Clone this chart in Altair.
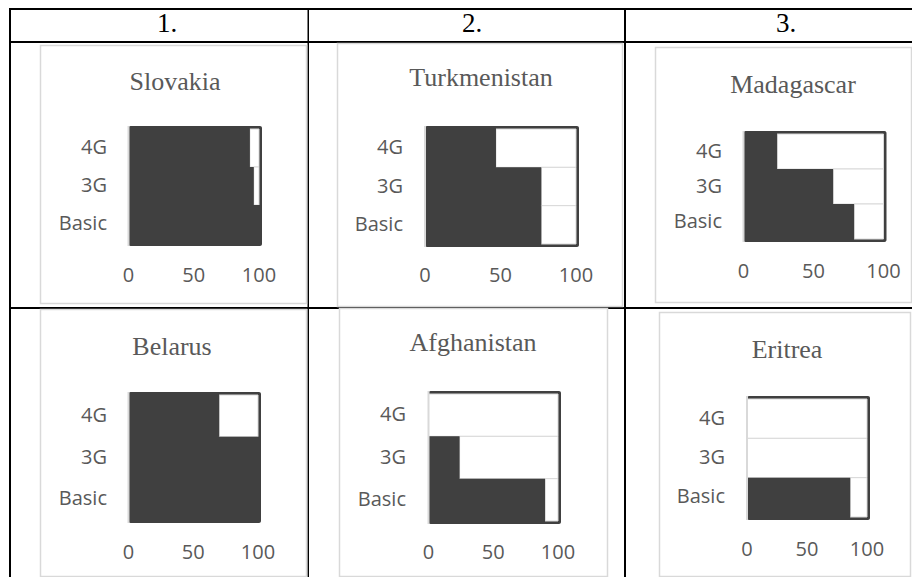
import altair as alt
import pandas as pd

# ---------------- data ----------------
techs = ["4G", "3G", "Basic"]
countries = ["Slovakia", "Turkmenistan", "Madagascar", "Belarus", "Afghanistan", "Eritrea"]
slovakia = [93, 96, 100]
turkmenistan = [47, 77, 77]
madagascar = [24, 64, 79]
belarus = [70, 100, 100]
afghanistan = [0, 24, 90]
eritrea = [0, 0, 86]
coverage = {
    "Slovakia": slovakia,
    "Turkmenistan": turkmenistan,
    "Madagascar": madagascar,
    "Belarus": belarus,
    "Afghanistan": afghanistan,
    "Eritrea": eritrea,
}
tick_values = [0, 50, 100]
headers = ["1.", "2.", "3."]

# ---------------- styles / layout (page pixel positions) ----------------
OFF = 8  # page margin
W, H = 904, 569
DARK = "#404040"
GRID = "#d9d9d9"
LABEL = "#595959"
SANS = "Open Sans"
SERIF = "Liberation Serif"

layout = {
    "Slovakia":     dict(x0=128.5, x1=259, y0=129, y1=243, lab=107, tick=276, tx=175, ty=82, box=(40, 306, 45, 303)),
    "Turkmenistan": dict(x0=425, x1=576, y0=129, y1=244, lab=403, tick=276, tx=481, ty=78, box=(337, 622, 43, 306)),
    "Madagascar":   dict(x0=743.5, x1=883.5, y0=134, y1=239, lab=722, tick=272, tx=793, ty=85, box=(655, 930, 47, 302)),
    "Belarus":      dict(x0=128.5, x1=258, y0=395, y1=520, lab=107, tick=553, tx=172, ty=347, box=(40, 306, 309, 583)),
    "Afghanistan":  dict(x0=428.5, x1=558, y0=394, y1=521, lab=406, tick=553, tx=473, ty=343, box=(339, 607, 308, 583)),
    "Eritrea":      dict(x0=747, x1=867, y0=399, y1=517, lab=725, tick=550, tx=787, ty=350, box=(659, 910, 312, 580)),
}
header_pos = [(167, 24), (472, 24), (786, 24)]

one = pd.DataFrame({"a": [0]})


def c(v):
    return v - OFF


# ---------------- table grid ----------------
def hline(y, x1, x2, w=2):
    return alt.Chart(one).mark_rule(color="black", strokeWidth=w).encode(
        x=alt.value(x1), x2=alt.value(x2), y=alt.value(y))


def vline(x, y1, y2, w=2):
    return alt.Chart(one).mark_rule(color="black", strokeWidth=w).encode(
        x=alt.value(x), y=alt.value(y1), y2=alt.value(y2))


table = [
    hline(1, 1, W),            # top border
    vline(c(10), 0, H),        # left border
    hline(c(42), 1, W),        # header bottom
    vline(c(308.25), 0, H, 1.5),  # column sep 1
    vline(c(625), 0, H),       # column sep 2
    hline(c(308), 1, W),       # row sep
]

boxes = []
for name in countries:
    bx1, bx2, by1, by2 = layout[name]["box"]
    bx2 = min(bx2, 911)
    by2 = min(by2, 576)
    boxes.append(
        alt.Chart(one).mark_rect(fill="white", stroke=GRID, strokeWidth=1.5).encode(
            x=alt.value(c(bx1) + 0.5), x2=alt.value(c(bx2) + 0.5),
            y=alt.value(c(by1) + 0.5), y2=alt.value(c(by2) + 0.5))
    )

header_layers = []
for h, (hx, hy) in zip(headers, header_pos):
    header_layers.append(
        alt.Chart(pd.DataFrame({"h": [h]})).mark_text(
            font=SERIF, fontSize=27, color="black", baseline="middle", align="center"
        ).encode(x=alt.value(c(hx)), y=alt.value(c(hy)), text="h:N")
    )


# ---------------- panels ----------------
def panel(name):
    L = layout[name]
    df = pd.DataFrame({"tech": techs, "value": coverage[name]})
    df["zero"] = 0
    df["full"] = 100
    sx = alt.Scale(domain=[0, 100], range=[c(L["x0"]), c(L["x1"])], nice=False, zero=False)
    sy = alt.Scale(domain=techs, range=[c(L["y0"]), c(L["y1"])], paddingInner=0, paddingOuter=0)
    Y = alt.Y("tech:N", scale=sy, axis=None)

    frame = alt.Chart(one).mark_rect(color=DARK, cornerRadius=2).encode(
        x=alt.value(c(L["x0"])), x2=alt.value(c(L["x1"]) + 3),
        y=alt.value(c(L["y0"]) - 3), y2=alt.value(c(L["y1"]) + 3))

    white = alt.Chart(df).transform_filter("datum.value < 100").mark_bar(
        fill="white", stroke=GRID, strokeWidth=1
    ).encode(x=alt.X("value:Q", scale=sx, axis=None), x2="full:Q", y=Y)

    dark = alt.Chart(df).transform_filter("datum.value > 0").mark_bar(
        color=DARK, strokeWidth=0
    ).encode(x=alt.X("zero:Q", scale=sx, axis=None), x2="value:Q", y=Y)

    axis_line = alt.Chart(one).mark_rule(color=GRID, strokeWidth=2).encode(
        x=alt.X(datum=0, type="quantitative", scale=sx, axis=None),
        y=alt.value(c(L["y0"]) - 3), y2=alt.value(c(L["y1"]) + 3))

    ylabels = alt.Chart(df).mark_text(
        align="right", baseline="middle", font=SANS, fontSize=20, color=LABEL
    ).encode(y=Y, x=alt.value(c(L["lab"])), text="tech:N")

    xlabels = alt.Chart(pd.DataFrame({"tick": tick_values})).mark_text(
        align="center", baseline="middle", font=SANS, fontSize=20, color=LABEL
    ).encode(x=alt.X("tick:Q", scale=sx, axis=None), y=alt.value(c(L["tick"])), text="tick:Q")

    title = alt.Chart(pd.DataFrame({"name": [name]})).mark_text(
        align="center", baseline="middle", font=SERIF, fontSize=26, color=LABEL
    ).encode(x=alt.value(c(L["tx"])), y=alt.value(c(L["ty"])), text="name:N")

    return alt.layer(frame, white, dark, axis_line, ylabels, xlabels, title)


panels = [panel(n) for n in countries]

chart = alt.layer(*table, *boxes, *header_layers, *panels).resolve_scale(
    x="independent", y="independent"
).properties(
    width=W, height=H, autosize=alt.AutoSizeParams(type="none"), padding=0
).configure_view(strokeWidth=0)

chart.save("out.html", embed_options={"renderer": "svg", "actions": False})
